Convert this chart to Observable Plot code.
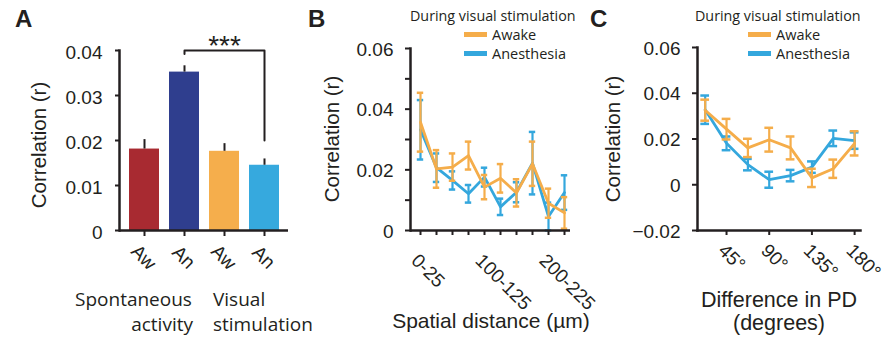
<!DOCTYPE html>
<html><head><meta charset="utf-8">
<script src="https://cdn.jsdelivr.net/npm/d3@7"></script>
<script src="https://cdn.jsdelivr.net/npm/@observablehq/plot@0.6"></script>
<style>
body{margin:0;background:#fff;}
#wrap{position:relative;width:884px;height:339px;overflow:hidden;background:#fff;}
#wrap > svg{position:absolute;top:0;}
</style></head><body><div id="wrap"></div>
<script>
// ---------- Panel A data ----------
const barKeys = ["spont-aw", "spont-an", "vis-aw", "vis-an"];
const barLabels = ["Aw", "An", "Aw", "An"];
const barValues = [0.0181, 0.0352, 0.0176, 0.0145];
const barErrors = [0.0021, 0.0014, 0.0017, 0.0014];
const barColors = ["#a82a31", "#2f3e8e", "#f5ae4c", "#36a9de"];
const yTicksA = [0, 0.01, 0.02, 0.03, 0.04];
const sigLabel = "***";
const sigPair = ["spont-an", "vis-an"];
const sigLevels = [0.0392, 0.04, 0.04, 0.02];

// ---------- Panel B data ----------
const distLabels = ["0-25", "25-50", "50-75", "75-100", "100-125", "125-150", "150-175", "175-200", "200-225", "225-250"];
const distAwake    = [0.0357, 0.0203, 0.0209, 0.0247, 0.0143, 0.0172, 0.0124, 0.0220, 0.0090, 0.0058];
const distAwakeErr = [0.0097, 0.0062, 0.0045, 0.0046, 0.0040, 0.0047, 0.0045, 0.0073, 0.0048, 0.0052];
const distAnes     = [0.0332, 0.0207, 0.0165, 0.0121, 0.0176, 0.0078, 0.0126, 0.0222, 0.0046, 0.0125];
const distAnesErr  = [0.0098, 0.0047, 0.0030, 0.0029, 0.0031, 0.0027, 0.0033, 0.0103, 0.0046, 0.0057];
const distLabelShown = ["0-25", "100-125", "200-225"];
const yTicksB = [0, 0.02, 0.04, 0.06];
const yMinorB = [0.01, 0.03, 0.05];

// ---------- Panel C data ----------
const pdDiff = [22.5, 45, 67.5, 90, 112.5, 135, 157.5, 180];
const pdAwake    = [0.0326, 0.0243, 0.0161, 0.0197, 0.0161, 0.0030, 0.0070, 0.0181];
const pdAwakeErr = [0.0046, 0.0045, 0.0040, 0.0052, 0.0050, 0.0040, 0.0040, 0.0053];
const pdAnes     = [0.0328, 0.0181, 0.0088, 0.0022, 0.0040, 0.0077, 0.0203, 0.0193];
const pdAnesErr  = [0.0062, 0.0030, 0.0025, 0.0035, 0.0025, 0.0025, 0.0034, 0.0036];
const pdTicks = [45, 90, 135, 180];
const yTicksC = [-0.02, 0, 0.02, 0.04, 0.06];

const seriesNames = ["Awake", "Anesthesia"];
const legendTitle = "During visual stimulation";

// ---------- styling ----------
const ink = "#231f20";
const cAwake = "#f5ad4a";
const cAnes = "#34a7dd";
const tickFont = "Liberation Sans, Arial, sans-serif";
const humanFont = "Open Sans, sans-serif";
const tickSizePx = 19;
const fmtY = d => d === 0 ? "0" : d3.format(".2f")(d);
const baseStyle = {fontFamily: tickFont, fontSize: tickSizePx + "px", color: ink, background: "transparent", overflow: "visible"};

const wrap = document.getElementById("wrap");
function place(svg, left) { svg.style.left = left + "px"; wrap.appendChild(svg); }

// axis helpers: tick marks and tick labels drawn separately so labels can be nudged
function yAxis(ticks, pad, tickSize, dy) {
  return [
    Plot.axisY({ticks, tickSize, tickFormat: () => "", strokeWidth: 2, label: null}),
    Plot.axisY({ticks, tickSize: 0, tickPadding: pad + tickSize, tickFormat: fmtY, fontSize: tickSizePx, label: null, dy})
  ];
}
function xAxis(ticks, fmt, o) {
  return [
    Plot.axisX({ticks, tickSize: o.tickSize, tickFormat: () => "", strokeWidth: 2, label: null}),
    Plot.axisX({ticks, tickSize: 0, tickRotate: 45, tickPadding: o.pad, tickFormat: fmt, fontSize: tickSizePx,
      label: null, dx: o.dx || 0, dy: o.dy || 0, ...(o.textAnchor ? {textAnchor: o.textAnchor} : {})})
  ];
}

// ---------- Panel A ----------
const barData = barKeys.map((k, i) => ({key: k, label: barLabels[i], value: barValues[i], err: barErrors[i], color: barColors[i]}));
const sigData = sigLevels.map((v, i) => ({x: i < 2 ? sigPair[0] : sigPair[1], y: v}));
const plotA = Plot.plot({
  width: 300, height: 339, marginLeft: 119, marginRight: 12, marginTop: 50, marginBottom: 109,
  style: baseStyle,
  x: {type: "band", domain: barKeys, paddingInner: 0.25, paddingOuter: 0.2375, axis: null},
  y: {domain: [0, 0.04], axis: null},
  marks: [
    Plot.barY(barData, {x: "key", y: "value", fill: "color"}),
    Plot.ruleX(barData, {x: "key", y1: "value", y2: d => d.value + d.err, stroke: ink, strokeWidth: 2}),
    Plot.ruleY(barData, {x: "key", y: d => d.value + d.err, insetLeft: 7, insetRight: 7, stroke: ink, strokeWidth: 2}),
    Plot.frame({anchor: "left", stroke: ink, strokeWidth: 2.5}),
    Plot.ruleY([0], {stroke: ink, strokeWidth: 2.5}),
    ...yAxis(yTicksA, 13, 4, 2),
    ...xAxis(barKeys, k => barLabels[barKeys.indexOf(k)], {tickSize: 6, pad: 27, textAnchor: "middle", dx: -1}),
    Plot.line(sigData, {x: "x", y: "y", stroke: ink, strokeWidth: 2}),
    Plot.text([sigLabel], {x: () => barKeys[2], y: () => sigLevels[1], dy: -4, fontSize: 28, fill: ink})
  ]
});
place(plotA, 0);

// helper to build series rows
function rows(xs, vals, errs) { return xs.map((x, i) => ({x, v: vals[i], lo: vals[i] - errs[i], hi: vals[i] + errs[i]})); }
function seriesMarks(data, color, capHalf) {
  return [
    Plot.ruleX(data, {x: "x", y1: "lo", y2: "hi", stroke: color, strokeWidth: 2.2}),
    Plot.ruleY(data, {y: "hi", x1: d => d.x - capHalf, x2: d => d.x + capHalf, stroke: color, strokeWidth: 2.5}),
    Plot.ruleY(data, {y: "lo", x1: d => d.x - capHalf, x2: d => d.x + capHalf, stroke: color, strokeWidth: 2.5}),
    Plot.line(data, {x: "x", y: "v", stroke: color, strokeWidth: 2.8})
  ];
}

// ---------- Panel B ----------
const idx = distLabels.map((_, i) => i);
const bAwake = rows(idx, distAwake, distAwakeErr);
const bAnes = rows(idx, distAnes, distAnesErr);
const plotB = Plot.plot({
  width: 290, height: 339, marginLeft: 110, marginRight: 20, marginTop: 48, marginBottom: 109,
  style: baseStyle,
  x: {domain: [-0.625, 9.375], axis: null},
  y: {domain: [0, 0.06], axis: null},
  marks: [
    ...seriesMarks(bAnes, cAnes, 0.2),
    ...seriesMarks(bAwake, cAwake, 0.2),
    Plot.frame({anchor: "left", stroke: ink, strokeWidth: 2.5}),
    Plot.ruleY([0], {stroke: ink, strokeWidth: 2.5}),
    ...yAxis(yTicksB, 12, 5, 1),
    Plot.axisY({ticks: yMinorB, tickFormat: () => "", tickSize: 5, strokeWidth: 2, label: null}),
    ...xAxis(idx, i => distLabelShown.includes(distLabels[i]) ? distLabels[i] : "", {tickSize: 5, pad: 13, dx: -6, dy: 14})
  ]
});
place(plotB, 300);

// ---------- Panel C ----------
const cAwakeRows = rows(pdDiff, pdAwake, pdAwakeErr);
const cAnesRows = rows(pdDiff, pdAnes, pdAnesErr);
const plotC = Plot.plot({
  width: 294, height: 339, marginLeft: 107, marginRight: 24, marginTop: 47, marginBottom: 109,
  style: baseStyle,
  x: {domain: [14.4, 186.2], axis: null},
  y: {domain: [-0.02, 0.06], axis: null},
  marks: [
    ...seriesMarks(cAnesRows, cAnes, 4.6),
    ...seriesMarks(cAwakeRows, cAwake, 4.6),
    Plot.frame({anchor: "left", stroke: ink, strokeWidth: 2.5}),
    Plot.frame({anchor: "bottom", stroke: ink, strokeWidth: 2.5}),
    ...yAxis(yTicksC, 12, 5, 1),
    ...xAxis(pdTicks, d => d + "°", {tickSize: 5, pad: 13, dx: -5, dy: 4})
  ]
});
place(plotC, 590);

// ---------- annotations (overlay) ----------
const ov = d3.create("svg").attr("width", 884).attr("height", 339).style("left", "0px").style("pointer-events", "none");
function txt(s, x, y, o = {}) {
  const t = ov.append("text").attr("x", x).attr("y", y).text(s)
    .attr("fill", ink)
    .attr("font-family", o.family || tickFont)
    .attr("font-size", o.size || 17)
    .attr("font-weight", o.weight || "normal")
    .attr("text-anchor", o.anchor || "start");
  if (o.rotate) t.attr("transform", `rotate(${o.rotate},${x},${y})`).attr("dominant-baseline", "central");
  return t;
}
// panel letters
txt("A", 15, 27, {size: 24, weight: "bold"});
txt("B", 308, 27, {size: 24, weight: "bold"});
txt("C", 590, 27, {size: 24, weight: "bold"});
// y titles
txt("Correlation (r)", 38, 145, {rotate: -90, anchor: "middle", size: 20.5});
txt("Correlation (r)", 331, 139, {rotate: -90, anchor: "middle", size: 20.5});
txt("Correlation (r)", 612, 139, {rotate: -90, anchor: "middle", size: 20.5});
// x titles
txt("Spatial distance (µm)", 491, 328, {anchor: "middle", size: 21});
txt("Difference in PD", 779, 307, {anchor: "middle", size: 21.5});
txt("(degrees)", 779, 330, {anchor: "middle", size: 21.5});
// group labels panel A
txt("Spontaneous", 75, 306, {family: humanFont, size: 19});
txt("activity", 193, 331, {family: humanFont, size: 19, anchor: "end"});
txt("Visual", 213, 306, {family: humanFont, size: 19});
txt("stimulation", 213, 331, {family: humanFont, size: 19});
// legends
function legend(x0, sx) {
  txt(legendTitle, x0, 21, {family: humanFont, size: 14.3});
  [cAwake, cAnes].forEach((c, i) => {
    ov.append("rect").attr("x", sx).attr("y", 32 + i * 19).attr("width", 23).attr("height", 5).attr("fill", c);
    txt(seriesNames[i], sx + 28, 40 + i * 19, {family: humanFont, size: 14.5});
  });
}
legend(410, 464);
legend(695, 748);
wrap.appendChild(ov.node());
</script></body></html>
